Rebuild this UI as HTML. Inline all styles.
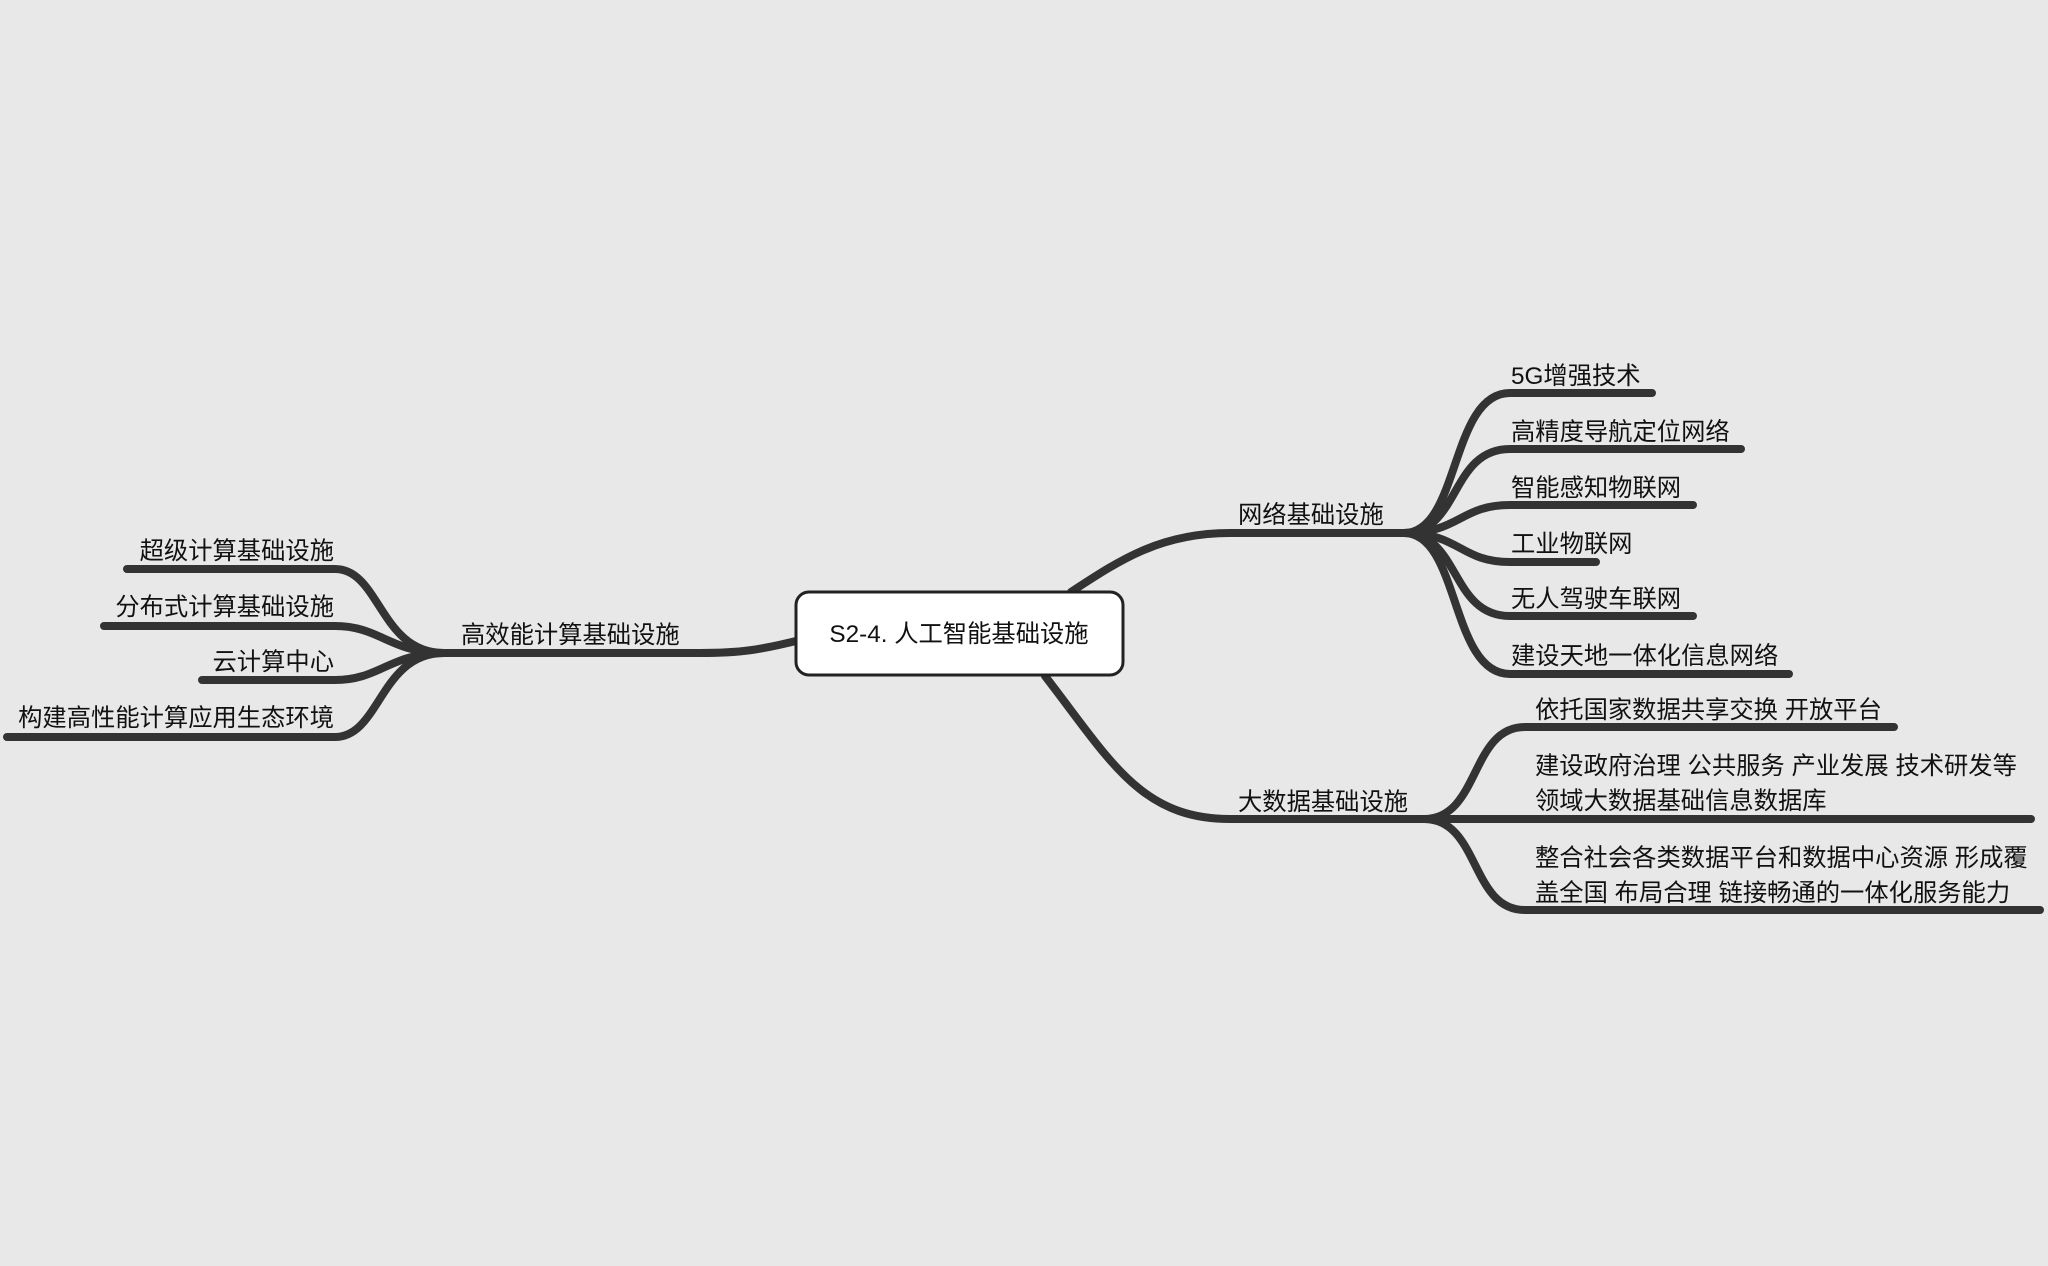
<!DOCTYPE html>
<html><head><meta charset="utf-8"><style>
html,body{margin:0;padding:0;background:#e8e8e8;}
svg{display:block}
text{font-family:"Liberation Sans","Noto Sans CJK SC",sans-serif;font-size:24.3px;fill:#111;}
</style></head><body>
<svg width="2048" height="1266" viewBox="0 0 2048 1266" xmlns="http://www.w3.org/2000/svg">
<rect width="2048" height="1266" fill="#e8e8e8"/>
<g fill="none" stroke="#333" stroke-width="8" stroke-linecap="round">
<path d="M800 640 C760 650 740 653 700 653 L444 653"/>
<path d="M444 653 C380 653 380 569 335 569 L127 569"/>
<path d="M444 653 C390 653 380 626 335 626 L104 626"/>
<path d="M444 653 C390 653 380 680 335 680 L202 680"/>
<path d="M444 653 C380 653 380 737 335 737 L7 737"/>
<path d="M1071 592 C1120 560 1160 533 1230 533 L1404 533"/>
<path d="M1404 533 C1460 533 1450 393 1510 393 L1652 393"/>
<path d="M1404 533 C1460 533 1450 449 1510 449 L1741 449"/>
<path d="M1404 533 C1460 533 1460 505 1510 505 L1693 505"/>
<path d="M1404 533 C1460 533 1460 562 1510 562 L1596 562"/>
<path d="M1404 533 C1460 533 1450 616 1510 616 L1693 616"/>
<path d="M1404 533 C1460 533 1450 674 1510 674 L1789 674"/>
<path d="M1045 676 C1110 760 1140 819 1230 819 L1424 819"/>
<path d="M1424 819 C1480 819 1470 727 1525 727 L1894 727"/>
<path d="M1424 819 L2031 819"/>
<path d="M1424 819 C1480 819 1470 910 1525 910 L2040 910"/>
</g>
<rect x="796" y="592" width="327" height="83" rx="13" ry="13" fill="#fff" stroke="#222" stroke-width="3"/>
<text x="959" y="642" text-anchor="middle">S2-4. 人工智能基础设施</text>
<text x="461" y="643">高效能计算基础设施</text>
<text x="334" y="559" text-anchor="end">超级计算基础设施</text>
<text x="334" y="615" text-anchor="end">分布式计算基础设施</text>
<text x="334" y="670" text-anchor="end">云计算中心</text>
<text x="334" y="726" text-anchor="end">构建高性能计算应用生态环境</text>
<text x="1238" y="523">网络基础设施</text>
<text x="1511" y="384">5G增强技术</text>
<text x="1511" y="440">高精度导航定位网络</text>
<text x="1511" y="496">智能感知物联网</text>
<text x="1511" y="552">工业物联网</text>
<text x="1511" y="607">无人驾驶车联网</text>
<text x="1511" y="664">建设天地一体化信息网络</text>
<text x="1238" y="810">大数据基础设施</text>
<text x="1535" y="718">依托国家数据共享交换 开放平台</text>
<text x="1535" y="774">建设政府治理 公共服务 产业发展 技术研发等</text>
<text x="1535" y="809">领域大数据基础信息数据库</text>
<text x="1535" y="866">整合社会各类数据平台和数据中心资源 形成覆</text>
<text x="1535" y="901">盖全国 布局合理 链接畅通的一体化服务能力</text>
</svg>
</body></html>
